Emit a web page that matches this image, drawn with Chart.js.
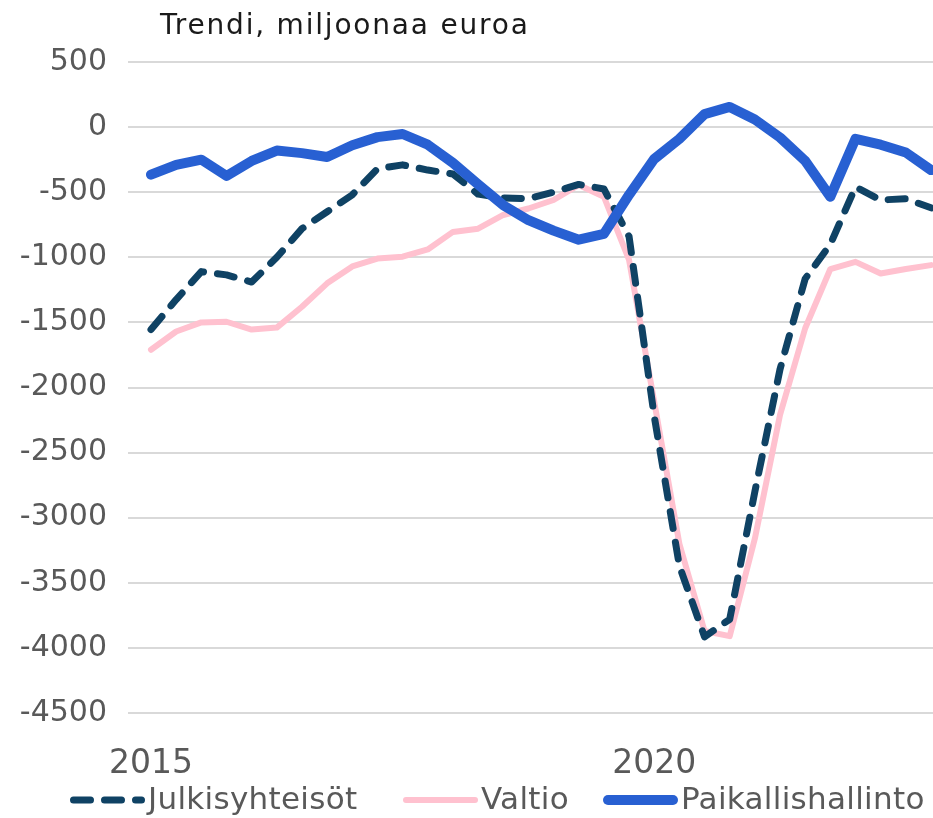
<!DOCTYPE html>
<html>
<head>
<meta charset="utf-8">
<script src="https://cdn.jsdelivr.net/npm/chart.js@4/dist/chart.umd.min.js"></script>
<style>
html,body{margin:0;padding:0;background:#ffffff;}
#wrap{width:933px;height:818px;position:relative;}
</style>
</head>
<body>
<div id="wrap"><canvas id="c"></canvas></div>
<script>
// ---- data ----
const quarters = [
  '2015Q1','2015Q2','2015Q3','2015Q4',
  '2016Q1','2016Q2','2016Q3','2016Q4',
  '2017Q1','2017Q2','2017Q3','2017Q4',
  '2018Q1','2018Q2','2018Q3','2018Q4',
  '2019Q1','2019Q2','2019Q3','2019Q4',
  '2020Q1','2020Q2','2020Q3','2020Q4',
  '2021Q1','2021Q2','2021Q3','2021Q4',
  '2022Q1','2022Q2','2022Q3','2022Q4'
];
const xTickLabels = ['2015', '2020'];
const yTickValues = [500, 0, -500, -1000, -1500, -2000, -2500, -3000, -3500, -4000, -4500];

const seriesNames = ['Julkisyhteisöt', 'Valtio', 'Paikallishallinto'];

const julkisyhteisot = [
  -1555, -1325, -1110, -1135, -1190, -1000, -780, -650,
  -520, -320, -290, -330, -360, -515, -545, -550,
  -500, -440, -475, -840, -2220, -3370, -3915, -3780,
  -2800, -1860, -1165, -900, -460, -560, -550, -620
];
const valtio = [
  -1710, -1570, -1500, -1495, -1555, -1540, -1380, -1200,
  -1070, -1010, -995, -940, -805, -780, -675, -625,
  -560, -445, -535, -1020, -2110, -3200, -3870, -3910,
  -3160, -2210, -1545, -1090, -1035, -1125, -1090, -1060
];
const paikallishallinto = [
  -365, -290, -250, -375, -260, -180, -200, -230,
  -140, -77, -53, -135, -275, -440, -600, -715,
  -795, -865, -820, -520, -245, -90, 100, 155,
  58, -80, -260, -535, -90, -135, -195, -330
];

// ---- build ----
const xTickIndex = xTickLabels.map(y => quarters.indexOf(y + 'Q1'));
const toPts = arr => arr.map((v, i) => ({x: i, y: v}));

const FONT = "'DejaVu Sans', sans-serif";
const GREY = '#595959';

const titlePlugin = {
  id: 'titleText',
  afterDraw(chart) {
    const ctx = chart.ctx;
    ctx.save();
    ctx.font = "28px " + FONT;
    try { ctx.letterSpacing = '1.8px'; } catch (e) {}
    ctx.fillStyle = '#1a1a1a';
    ctx.textBaseline = 'alphabetic';
    ctx.textAlign = 'left';
    ctx.fillText('Trendi, miljoonaa euroa', 160, 34);
    ctx.restore();
  }
};

const legendStarts = [70, 403, 603];
const legendPlugin = {
  id: 'lineLegend',
  afterDraw(chart) {
    const ctx = chart.ctx;
    const y = 800;
    chart.data.datasets.forEach((ds, k) => {
      const x0 = legendStarts[k];
      const lw = ds.borderWidth;
      ctx.save();
      ctx.strokeStyle = ds.borderColor;
      ctx.lineWidth = lw;
      ctx.lineCap = 'round';
      ctx.setLineDash(ds.borderDash || []);
      ctx.beginPath();
      ctx.moveTo(x0 + lw / 2, y);
      ctx.lineTo(x0 + 75 - lw / 2, y);
      ctx.stroke();
      ctx.setLineDash([]);
      ctx.font = "31px " + FONT;
      try { ctx.letterSpacing = '0.3px'; } catch (e) {}
      ctx.fillStyle = GREY;
      ctx.textBaseline = 'middle';
      ctx.textAlign = 'left';
      ctx.fillText(ds.label, x0 + 78, y + 1);
      ctx.restore();
    });
  }
};

new Chart(document.getElementById('c'), {
  type: 'line',
  data: {
    datasets: [
      {
        label: seriesNames[0], data: toPts(julkisyhteisot),
        borderColor: '#0f4264', borderWidth: 7, borderDash: [17, 14],
        borderCapStyle: 'round', borderJoinStyle: 'round',
        pointRadius: 0, tension: 0, order: 1, clip: false
      },
      {
        label: seriesNames[1], data: toPts(valtio),
        borderColor: '#ffc1cf', borderWidth: 6,
        borderCapStyle: 'round', borderJoinStyle: 'round',
        pointRadius: 0, tension: 0, order: 2, clip: false
      },
      {
        label: seriesNames[2], data: toPts(paikallishallinto),
        borderColor: '#2860d2', borderWidth: 10,
        borderCapStyle: 'round', borderJoinStyle: 'round',
        pointRadius: 0, tension: 0, order: 0, clip: false
      }
    ]
  },
  options: {
    responsive: true,
    maintainAspectRatio: false,
    animation: false,
    devicePixelRatio: 1,
    layout: { padding: { top: 62, bottom: 45, left: 0, right: 0 } },
    plugins: { legend: { display: false }, tooltip: { enabled: false }, title: { display: false } },
    scales: {
      x: {
        type: 'linear',
        min: -0.914, max: 31.08,
        grid: { display: false, drawTicks: false },
        border: { display: false },
        afterBuildTicks: (scale) => { scale.ticks = xTickIndex.map(v => ({ value: v })); },
        afterFit: (scale) => { scale.height = 60; },
        ticks: {
          autoSkip: false, maxRotation: 0, padding: 32,
          color: GREY, font: { family: FONT, size: 33 },
          callback: (v) => { const k = xTickIndex.indexOf(v); return k >= 0 ? xTickLabels[k] : ''; }
        }
      },
      y: {
        min: -4500, max: 500,
        afterBuildTicks: (scale) => { scale.ticks = yTickValues.map(v => ({ value: v })); },
        afterFit: (scale) => { scale.width = 128; },
        grid: { color: '#d9d9d9', lineWidth: 2, drawTicks: false },
        border: { display: false },
        ticks: {
          padding: 21, color: GREY, font: { family: FONT, size: 30 },
          callback: (v) => String(v)
        }
      }
    }
  },
  plugins: [titlePlugin, legendPlugin]
});
</script>
</body>
</html>
